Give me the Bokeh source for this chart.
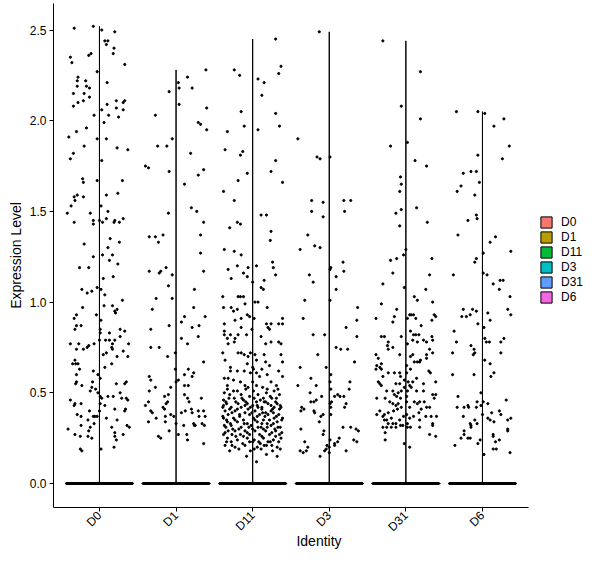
import math
from bokeh.plotting import figure
from bokeh.models import Legend, LegendItem, FixedTicker
from bokeh.embed import file_html
from bokeh.resources import INLINE

# identities and ggplot hue colours
idents = ["D0", "D1", "D11", "D3", "D31", "D6"]
colors = ["#F8766D", "#B79F00", "#00BA38", "#00BFC4", "#619CFF", "#F564E3"]

# non-zero cells per identity: (jitter offset, expression level)
d0_cells = [
    (-0.33, 2.51), (-0.08, 2.52), (0.03, 2.50), (0.20, 2.49), (0.07, 2.44), (0.11, 2.44), (0.09, 2.42),
    (0.19, 2.40), (0.18, 2.37), (-0.38, 2.35), (-0.14, 2.36), (-0.11, 2.37), (-0.36, 2.32), (0.33, 2.31),
    (-0.03, 2.27), (-0.28, 2.24), (-0.29, 2.22), (-0.18, 2.22), (0.10, 2.21), (-0.17, 2.19), (-0.13, 2.18),
    (-0.29, 2.19), (-0.34, 2.15), (-0.20, 2.15), (-0.13, 2.13), (-0.28, 2.10), (-0.34, 2.08), (-0.21, 2.11),
    (0.10, 2.09), (0.22, 2.11), (0.31, 2.10), (0.33, 2.11), (0.03, 2.06), (0.22, 2.07), (0.31, 2.06),
    (-0.07, 2.03), (0.12, 2.03), (0.25, 2.02), (0.06, 1.99), (-0.17, 1.96), (-0.30, 1.94), (-0.40, 1.91),
    (-0.03, 1.90), (0.09, 1.90), (-0.20, 1.86), (0.23, 1.85), (0.37, 1.84), (-0.34, 1.82), (-0.38, 1.79),
    (0.03, 1.78), (-0.22, 1.68), (-0.21, 1.66), (-0.03, 1.67), (0.30, 1.67), (0.24, 1.60), (0.09, 1.59),
    (-0.29, 1.59), (-0.33, 1.58), (-0.21, 1.58), (-0.32, 1.56), (-0.37, 1.53), (0.02, 1.53), (-0.42, 1.49),
    (-0.12, 1.49), (0.11, 1.50), (-0.33, 1.44), (-0.08, 1.45), (-0.08, 1.43), (0.00, 1.45), (0.04, 1.44),
    (0.09, 1.46), (0.19, 1.44), (0.20, 1.45), (0.26, 1.44), (0.31, 1.46), (0.14, 1.35), (0.26, 1.33),
    (-0.20, 1.32), (0.11, 1.30), (0.17, 1.26), (-0.08, 1.25), (0.04, 1.26), (0.13, 1.23), (0.24, 1.21),
    (-0.14, 1.19), (-0.26, 1.19), (0.05, 1.13), (0.18, 1.14), (-0.03, 1.08), (-0.23, 1.07), (-0.16, 1.05),
    (-0.10, 1.06), (0.02, 1.07), (0.07, 1.04), (0.30, 1.01), (0.06, 0.98), (0.17, 0.98), (-0.22, 0.97),
    (-0.04, 0.93), (-0.30, 0.93), (0.23, 0.96), (0.20, 0.95), (0.21, 0.94), (-0.33, 0.91), (0.02, 0.90),
    (-0.30, 0.87), (-0.24, 0.87), (-0.32, 0.85), (0.27, 0.85), (0.01, 0.85), (0.33, 0.84), (0.01, 0.83),
    (0.13, 0.83), (0.27, 0.81), (-0.38, 0.77), (-0.27, 0.77), (-0.07, 0.77), (-0.14, 0.76), (0.00, 0.79),
    (0.08, 0.79), (0.13, 0.79), (0.20, 0.79), (0.17, 0.77), (0.38, 0.77), (0.31, 0.73), (0.16, 0.75),
    (0.17, 0.74), (0.09, 0.72), (-0.16, 0.75), (-0.30, 0.74), (-0.21, 0.74), (0.05, 0.71), (0.23, 0.70),
    (0.37, 0.70), (-0.32, 0.68), (-0.35, 0.66), (-0.31, 0.66), (-0.28, 0.66), (0.16, 0.66), (-0.26, 0.63),
    (0.07, 0.64), (-0.08, 0.62), (-0.02, 0.60), (-0.30, 0.60), (0.01, 0.58), (0.35, 0.56), (0.22, 0.55),
    (0.33, 0.55), (-0.31, 0.55), (-0.23, 0.54), (-0.10, 0.53), (-0.30, 0.56), (-0.09, 0.56), (-0.05, 0.52),
    (-0.12, 0.51), (-0.02, 0.50), (0.27, 0.50), (-0.38, 0.46), (-0.32, 0.44), (-0.24, 0.44), (-0.33, 0.43),
    (0.01, 0.48), (0.03, 0.47), (0.11, 0.48), (0.18, 0.48), (0.29, 0.47), (0.35, 0.47), (0.37, 0.46),
    (0.07, 0.43), (0.01, 0.44), (0.20, 0.41), (0.34, 0.41), (-0.29, 0.38), (-0.13, 0.40), (0.00, 0.40),
    (0.33, 0.40), (-0.08, 0.37), (-0.06, 0.37), (-0.03, 0.37), (-0.24, 0.37), (-0.15, 0.35), (0.09, 0.36),
    (0.23, 0.35), (-0.07, 0.33), (0.36, 0.32), (-0.41, 0.30), (-0.24, 0.32), (-0.12, 0.31), (0.16, 0.31),
    (0.39, 0.31), (-0.14, 0.29), (0.20, 0.28), (-0.32, 0.27), (-0.25, 0.26), (-0.15, 0.26), (0.31, 0.27),
    (0.20, 0.26), (-0.10, 0.25), (0.22, 0.24), (-0.25, 0.19), (-0.23, 0.18), (0.02, 0.19), (0.19, 0.20),
]

d1_cells = [
    (0.39, 2.28), (0.15, 2.24), (0.03, 2.21), (0.04, 2.18), (0.21, 2.18), (-0.09, 2.16), (0.04, 2.09),
    (0.40, 2.07), (-0.27, 2.03), (0.29, 1.99), (0.32, 1.98), (0.40, 1.95), (-0.05, 1.90), (-0.24, 1.86),
    (-0.12, 1.86), (0.19, 1.82), (-0.40, 1.75), (-0.36, 1.74), (0.36, 1.73), (-0.09, 1.72), (0.29, 1.70),
    (0.11, 1.65), (0.20, 1.52), (0.27, 1.50), (-0.10, 1.49), (0.36, 1.44), (-0.17, 1.37), (0.32, 1.37),
    (-0.35, 1.36), (-0.27, 1.36), (-0.23, 1.33), (0.32, 1.27), (-0.13, 1.19), (-0.35, 1.17), (-0.20, 1.17),
    (-0.22, 1.16), (-0.05, 1.15), (0.36, 1.17), (-0.10, 1.09), (0.24, 1.07), (-0.26, 1.02), (-0.05, 1.02),
    (-0.31, 0.96), (0.23, 0.97), (0.38, 0.92), (0.11, 0.92), (0.07, 0.89), (-0.09, 0.87), (0.30, 0.87),
    (0.21, 0.86), (-0.33, 0.85), (0.29, 0.81), (0.07, 0.80), (0.15, 0.77), (-0.33, 0.75), (-0.22, 0.75),
    (-0.01, 0.72), (-0.11, 0.70), (0.36, 0.67), (0.16, 0.63), (-0.01, 0.63), (0.23, 0.61), (0.11, 0.60),
    (-0.35, 0.59), (0.21, 0.59), (-0.33, 0.57), (0.03, 0.57), (0.00, 0.56), (0.11, 0.54), (0.16, 0.54),
    (-0.27, 0.53), (-0.07, 0.53), (-0.35, 0.51), (-0.10, 0.49), (0.11, 0.49), (-0.15, 0.48), (0.15, 0.47),
    (0.17, 0.45), (0.33, 0.47), (-0.36, 0.45), (-0.40, 0.43), (-0.11, 0.45), (-0.13, 0.44), (-0.17, 0.42),
    (-0.15, 0.41), (-0.33, 0.40), (-0.31, 0.39), (0.20, 0.41), (0.12, 0.40), (0.29, 0.40), (0.36, 0.40),
    (0.21, 0.39), (-0.07, 0.38), (-0.03, 0.37), (-0.14, 0.37), (-0.26, 0.36), (0.07, 0.39), (0.30, 0.37),
    (0.38, 0.37), (-0.36, 0.34), (-0.14, 0.34), (0.00, 0.33), (0.10, 0.32), (0.23, 0.33), (0.25, 0.32),
    (0.24, 0.32), (0.34, 0.33), (0.37, 0.32), (-0.09, 0.29), (-0.23, 0.26), (-0.20, 0.25), (0.03, 0.27),
    (0.14, 0.27), (0.15, 0.24), (0.36, 0.22),
]

d11_cells = [
    (0.30, 2.45), (0.37, 2.30), (-0.24, 2.28), (-0.17, 2.25), (0.34, 2.26), (0.07, 2.23), (0.15, 2.21),
    (0.12, 2.14), (-0.15, 2.05), (0.30, 2.04), (-0.11, 1.97), (0.35, 1.97), (0.07, 1.95), (-0.33, 1.94),
    (-0.36, 1.84), (-0.13, 1.83), (-0.16, 1.81), (0.30, 1.78), (0.24, 1.72), (-0.07, 1.71), (0.39, 1.66),
    (-0.19, 1.67), (-0.38, 1.61), (-0.24, 1.56), (0.11, 1.48), (0.18, 1.48), (-0.20, 1.44), (-0.16, 1.43),
    (-0.30, 1.41), (0.24, 1.39), (0.23, 1.34), (-0.37, 1.29), (-0.24, 1.28), (-0.15, 1.26), (0.26, 1.22),
    (0.05, 1.20), (-0.20, 1.20), (-0.06, 1.19), (-0.32, 1.18), (0.27, 1.19), (-0.12, 1.16), (0.00, 1.11),
    (-0.28, 1.13), (0.30, 1.15), (-0.07, 1.14), (0.15, 1.12), (0.11, 1.08), (0.14, 1.07), (-0.19, 1.03),
    (-0.16, 1.03), (-0.12, 1.03), (-0.39, 1.03), (0.03, 1.00), (0.07, 1.00), (-0.10, 0.99), (-0.28, 0.97),
    (-0.38, 0.97), (0.19, 0.97), (-0.25, 0.95), (-0.20, 0.96), (-0.07, 0.93), (-0.04, 0.92), (0.39, 0.91),
    (-0.15, 0.91), (-0.23, 0.90), (0.02, 0.91), (-0.37, 0.88), (0.18, 0.88), (0.24, 0.88), (0.34, 0.88),
    (0.39, 0.88), (0.20, 0.86), (0.22, 0.85), (-0.15, 0.86), (-0.01, 0.85), (-0.37, 0.84), (-0.37, 0.82),
    (-0.29, 0.82), (-0.19, 0.82), (-0.08, 0.82), (0.11, 0.81), (-0.33, 0.80), (-0.23, 0.80), (-0.24, 0.78),
    (0.24, 0.78), (0.34, 0.78), (0.37, 0.77), (-0.32, 0.77), (0.17, 0.77), (-0.39, 0.72), (-0.19, 0.72),
    (-0.15, 0.72), (-0.11, 0.71), (-0.03, 0.72), (0.03, 0.71), (-0.06, 0.70), (0.15, 0.71), (0.37, 0.71),
    (-0.36, 0.68), (-0.07, 0.66), (0.05, 0.68), (0.17, 0.67), (0.39, 0.67), (-0.29, 0.64), (0.00, 0.64),
    (0.22, 0.65), (-0.29, 0.62), (-0.20, 0.62), (-0.11, 0.62), (0.01, 0.63), (0.05, 0.61), (0.12, 0.63),
    (0.34, 0.62), (-0.03, 0.61), (-0.37, 0.58), (-0.32, 0.58), (0.09, 0.59), (0.19, 0.60), (0.39, 0.59),
    (-0.25, 0.57), (-0.16, 0.56), (0.00, 0.56), (0.24, 0.56), (-0.33, 0.54), (-0.10, 0.54), (0.05, 0.54),
    (0.13, 0.53), (0.31, 0.54), (-0.37, 0.50), (-0.25, 0.51), (-0.20, 0.51), (-0.06, 0.53), (0.01, 0.51),
    (0.18, 0.50), (0.28, 0.51), (-0.30, 0.49), (-0.15, 0.49), (-0.04, 0.48), (0.07, 0.49), (0.23, 0.48),
    (0.35, 0.49), (-0.38, 0.46), (-0.24, 0.47), (-0.12, 0.46), (0.02, 0.47), (0.10, 0.46), (0.17, 0.45),
    (0.25, 0.47), (-0.34, 0.44), (-0.19, 0.44), (-0.07, 0.44), (0.00, 0.43), (0.20, 0.44), (0.32, 0.44),
    (-0.39, 0.42), (-0.28, 0.42), (-0.15, 0.42), (-0.03, 0.42), (0.07, 0.42), (0.12, 0.42), (0.28, 0.42),
    (0.37, 0.42), (-0.36, 0.40), (-0.23, 0.40), (-0.10, 0.39), (0.03, 0.40), (0.17, 0.39), (0.24, 0.40),
    (-0.32, 0.38), (-0.17, 0.38), (-0.04, 0.38), (0.09, 0.38), (0.20, 0.38), (0.34, 0.38), (-0.38, 0.36),
    (-0.25, 0.36), (-0.12, 0.35), (0.01, 0.36), (0.14, 0.35), (0.28, 0.36), (0.39, 0.36), (-0.33, 0.34),
    (-0.20, 0.34), (-0.07, 0.33), (0.06, 0.34), (0.19, 0.33), (0.32, 0.34), (-0.37, 0.32), (-0.28, 0.32),
    (-0.15, 0.31), (-0.02, 0.32), (0.11, 0.31), (0.24, 0.32), (0.36, 0.31), (-0.32, 0.29), (-0.23, 0.29),
    (-0.10, 0.29), (0.03, 0.29), (0.17, 0.29), (0.30, 0.29), (-0.38, 0.27), (-0.27, 0.27), (-0.16, 0.27),
    (-0.04, 0.27), (0.09, 0.27), (0.22, 0.27), (0.35, 0.27), (-0.33, 0.25), (-0.20, 0.24), (-0.07, 0.25),
    (0.02, 0.24), (0.14, 0.25), (0.27, 0.24), (0.37, 0.25), (-0.28, 0.23), (-0.13, 0.22), (0.00, 0.23),
    (0.10, 0.22), (0.23, 0.23), (-0.36, 0.21), (-0.23, 0.20), (-0.10, 0.21), (0.06, 0.20), (0.18, 0.21),
    (0.32, 0.20), (-0.30, 0.18), (-0.03, 0.18), (0.11, 0.19), (0.26, 0.18), (-0.08, 0.15), (0.18, 0.16),
    (0.32, 0.15), (0.05, 0.12),
    (-0.35, 0.45), (-0.22, 0.45), (-0.09, 0.45), (0.05, 0.45), (0.15, 0.45), (0.30, 0.45), (-0.30, 0.41),
    (-0.20, 0.41), (-0.06, 0.41), (0.12, 0.41), (0.26, 0.41), (0.35, 0.41), (-0.39, 0.37), (-0.17, 0.37),
    (0.06, 0.37), (0.16, 0.37), (0.31, 0.37), (-0.34, 0.35), (-0.23, 0.35), (0.03, 0.35), (0.22, 0.35),
    (0.38, 0.35), (-0.29, 0.33), (-0.11, 0.33), (0.12, 0.33), (0.27, 0.33), (-0.35, 0.31), (-0.05, 0.31),
    (0.07, 0.31), (0.19, 0.31), (0.33, 0.31), (-0.26, 0.30), (-0.18, 0.30), (0.00, 0.30), (0.14, 0.30),
    (0.29, 0.30), (-0.36, 0.28), (-0.07, 0.28), (0.25, 0.28), (0.38, 0.28), (-0.22, 0.26), (-0.12, 0.26),
    (0.12, 0.26), (0.30, 0.26), (-0.34, 0.23), (-0.04, 0.23), (0.08, 0.23), (0.20, 0.23), (0.34, 0.23),
    (-0.27, 0.21), (0.15, 0.21), (0.25, 0.21), (-0.18, 0.19), (0.02, 0.19), (0.36, 0.19), (-0.27, 0.39),
    (-0.01, 0.39), (0.13, 0.39), (0.27, 0.39), (-0.38, 0.43), (-0.10, 0.43), (0.06, 0.43), (0.24, 0.43),
    (0.36, 0.43), (-0.31, 0.47), (-0.14, 0.47), (0.14, 0.47), (0.31, 0.47), (-0.33, 0.52), (-0.09, 0.52),
    (0.19, 0.52), (0.33, 0.52),
]

d3_cells = [
    (-0.13, 2.49), (-0.41, 1.90), (-0.16, 1.80), (-0.12, 1.79), (0.01, 1.80), (-0.23, 1.56), (-0.08, 1.55),
    (0.19, 1.56), (0.28, 1.56), (-0.23, 1.50), (0.20, 1.50), (-0.08, 1.47), (-0.28, 1.37), (-0.19, 1.31),
    (-0.12, 1.30), (-0.38, 1.29), (0.18, 1.22), (0.02, 1.19), (0.01, 1.18), (0.19, 1.17), (-0.26, 1.15),
    (0.09, 1.14), (-0.21, 1.11), (0.09, 1.07), (-0.32, 1.01), (0.01, 1.01), (0.37, 0.97), (-0.34, 0.91),
    (0.36, 0.90), (0.22, 0.86), (-0.21, 0.82), (-0.06, 0.82), (0.36, 0.81), (0.09, 0.75), (0.15, 0.74),
    (0.24, 0.74), (-0.15, 0.71), (0.33, 0.67), (-0.38, 0.64), (-0.04, 0.64), (0.02, 0.60), (-0.24, 0.58),
    (0.01, 0.56), (0.27, 0.56), (-0.41, 0.54), (-0.17, 0.54), (0.02, 0.52), (0.26, 0.52), (-0.25, 0.50),
    (0.11, 0.49), (0.14, 0.48), (0.07, 0.48), (0.19, 0.48), (-0.10, 0.48), (-0.17, 0.46), (-0.24, 0.45),
    (-0.20, 0.45), (0.03, 0.45), (0.01, 0.44), (0.22, 0.44), (-0.36, 0.42), (-0.33, 0.41), (-0.37, 0.40),
    (-0.20, 0.40), (-0.19, 0.39), (0.02, 0.42), (0.20, 0.42), (-0.08, 0.38), (-0.11, 0.37), (0.02, 0.38),
    (-0.13, 0.34), (-0.37, 0.30), (-0.07, 0.29), (-0.08, 0.27), (0.18, 0.31), (0.28, 0.31), (0.35, 0.30),
    (0.38, 0.29), (-0.32, 0.23), (0.01, 0.24), (0.13, 0.25), (0.11, 0.23), (0.07, 0.22), (0.07, 0.21),
    (0.32, 0.24), (0.36, 0.23), (-0.28, 0.20), (-0.03, 0.21), (-0.04, 0.19), (0.00, 0.20), (-0.38, 0.18),
    (-0.34, 0.17), (-0.30, 0.18), (-0.06, 0.18), (0.00, 0.17), (0.22, 0.18), (-0.12, 0.15),
]

d31_cells = [
    (-0.30, 2.44), (0.19, 2.27), (-0.06, 2.08), (0.19, 2.01), (0.02, 1.88), (-0.20, 1.86), (0.12, 1.78),
    (0.27, 1.75), (-0.07, 1.69), (-0.06, 1.65), (-0.08, 1.61), (-0.06, 1.51), (0.14, 1.52), (-0.13, 1.49),
    (0.28, 1.44), (-0.08, 1.42), (0.00, 1.29), (-0.03, 1.26), (-0.20, 1.23), (-0.12, 1.24), (0.34, 1.24),
    (0.31, 1.15), (-0.17, 1.16), (-0.30, 1.10), (-0.02, 1.08), (0.26, 1.07), (0.11, 1.03), (0.15, 1.01),
    (-0.32, 0.99), (0.35, 1.00), (-0.12, 0.96), (-0.15, 0.92), (0.05, 0.93), (0.07, 0.93), (0.10, 0.93),
    (0.37, 0.93), (-0.39, 0.91), (0.02, 0.91), (0.13, 0.91), (0.39, 0.92), (-0.17, 0.89), (0.34, 0.90),
    (0.20, 0.87), (0.06, 0.84), (0.10, 0.82), (0.13, 0.82), (0.17, 0.82), (-0.32, 0.81), (-0.28, 0.81),
    (-0.06, 0.81), (0.34, 0.81), (0.09, 0.79), (0.15, 0.78), (0.23, 0.79), (0.27, 0.78), (0.35, 0.79),
    (-0.23, 0.78), (0.02, 0.77), (-0.24, 0.76), (-0.23, 0.74), (-0.17, 0.75), (0.31, 0.74), (0.35, 0.72),
    (0.27, 0.71), (-0.39, 0.71), (-0.08, 0.71), (0.09, 0.71), (0.06, 0.70), (-0.36, 0.69), (0.19, 0.68),
    (0.15, 0.67), (0.11, 0.67), (0.18, 0.67), (0.27, 0.69), (-0.32, 0.66), (-0.38, 0.65), (-0.34, 0.64),
    (0.01, 0.65), (-0.32, 0.63), (-0.39, 0.63), (0.06, 0.63), (0.30, 0.62), (-0.23, 0.61), (-0.15, 0.61),
    (-0.08, 0.61), (0.01, 0.61), (-0.30, 0.59), (-0.07, 0.59), (0.14, 0.58), (0.32, 0.61), (-0.36, 0.56),
    (-0.34, 0.55), (-0.32, 0.54), (-0.02, 0.57), (0.09, 0.56), (0.39, 0.56), (-0.13, 0.55), (-0.08, 0.55),
    (0.03, 0.56), (0.05, 0.54), (0.07, 0.53), (0.23, 0.55), (-0.02, 0.53), (-0.25, 0.51), (-0.17, 0.51),
    (-0.10, 0.50), (-0.06, 0.51), (0.02, 0.51), (0.14, 0.51), (0.23, 0.51), (0.35, 0.49), (0.39, 0.49),
    (-0.38, 0.47), (-0.27, 0.47), (-0.15, 0.49), (-0.12, 0.48), (-0.07, 0.47), (0.01, 0.48), (0.11, 0.45),
    (0.18, 0.45), (0.24, 0.45), (0.37, 0.47), (-0.21, 0.45), (-0.17, 0.44), (-0.13, 0.43), (-0.10, 0.44),
    (0.01, 0.45), (0.15, 0.44), (0.05, 0.42), (-0.06, 0.42), (-0.11, 0.41), (0.20, 0.41), (0.27, 0.42),
    (0.31, 0.42), (-0.38, 0.38), (-0.34, 0.40), (-0.30, 0.37), (-0.28, 0.38), (-0.23, 0.39), (-0.16, 0.40),
    (0.01, 0.38), (0.10, 0.37), (0.17, 0.39), (0.26, 0.37), (0.33, 0.37), (0.40, 0.37), (-0.28, 0.35),
    (-0.25, 0.35), (-0.19, 0.36), (-0.08, 0.35), (-0.03, 0.37), (0.05, 0.36), (0.18, 0.35), (-0.23, 0.33),
    (-0.17, 0.33), (-0.13, 0.33), (-0.07, 0.32), (-0.04, 0.32), (0.02, 0.33), (0.35, 0.33), (-0.30, 0.31),
    (-0.25, 0.31), (-0.19, 0.31), (-0.13, 0.31), (0.02, 0.31), (0.06, 0.31), (0.18, 0.31), (0.35, 0.32),
    (-0.27, 0.28), (0.31, 0.27), (0.39, 0.26), (-0.27, 0.24), (-0.02, 0.22), (0.05, 0.20),
]

d6_cells = [
    (-0.34, 2.05), (-0.06, 2.05), (0.03, 2.04), (0.28, 2.01), (0.15, 1.97), (0.35, 1.86), (-0.06, 1.81),
    (0.26, 1.79), (-0.25, 1.71), (-0.15, 1.72), (-0.08, 1.72), (-0.04, 1.66), (-0.28, 1.64), (-0.33, 1.61),
    (-0.10, 1.59), (-0.08, 1.48), (-0.07, 1.46), (-0.19, 1.45), (-0.32, 1.37), (0.17, 1.36), (0.10, 1.33),
    (0.37, 1.28), (0.01, 1.27), (-0.08, 1.24), (-0.10, 1.22), (-0.38, 1.15), (0.01, 1.16), (0.06, 1.15),
    (0.23, 1.12), (0.27, 1.12), (0.14, 1.10), (0.22, 1.07), (0.36, 1.03), (-0.25, 0.96), (-0.13, 0.96),
    (-0.08, 0.95), (0.33, 0.96), (-0.27, 0.92), (-0.21, 0.92), (-0.16, 0.93), (0.07, 0.94), (0.37, 0.93),
    (0.10, 0.90), (-0.06, 0.88), (0.02, 0.86), (-0.37, 0.84), (0.03, 0.80), (0.05, 0.78), (0.28, 0.80),
    (0.09, 0.78), (0.24, 0.78), (-0.34, 0.78), (-0.15, 0.76), (-0.11, 0.74), (-0.10, 0.72), (-0.12, 0.71),
    (0.24, 0.72), (-0.39, 0.72), (0.03, 0.68), (0.10, 0.66), (0.15, 0.61), (0.11, 0.59), (-0.39, 0.60),
    (-0.11, 0.60), (-0.02, 0.50), (-0.32, 0.48), (-0.07, 0.45), (0.01, 0.45), (0.07, 0.44), (0.31, 0.46),
    (-0.02, 0.43), (-0.33, 0.42), (-0.24, 0.42), (-0.19, 0.43), (-0.18, 0.42), (-0.08, 0.42), (0.22, 0.40),
    (0.12, 0.39), (0.24, 0.38), (-0.25, 0.37), (-0.10, 0.35), (0.00, 0.38), (0.07, 0.36), (0.10, 0.35),
    (0.15, 0.34), (0.37, 0.36), (0.33, 0.35), (-0.07, 0.33), (-0.16, 0.33), (-0.15, 0.32), (-0.15, 0.31),
    (0.33, 0.30), (0.33, 0.29), (-0.24, 0.29), (-0.24, 0.27), (-0.28, 0.25), (-0.19, 0.25), (-0.16, 0.25),
    (0.14, 0.27), (0.14, 0.26), (-0.03, 0.24), (0.22, 0.24), (0.17, 0.23), (-0.06, 0.22), (-0.36, 0.21),
    (0.14, 0.19), (0.18, 0.19), (0.36, 0.17), (0.02, 0.16),
]

cells = [d0_cells, d1_cells, d11_cells, d3_cells, d31_cells, d6_cells]

FONT = "Liberation Sans"

# the frame runs on under the legend; the x axis line is bounded to the data panel
p = figure(width=584, height=552, x_range=(0.4, 7.332), y_range=(-0.1323, 2.6461),
           output_backend="svg", toolbar_location=None,
           min_border_left=53, min_border_right=0, min_border_top=3, min_border_bottom=45)
p.background_fill_color = "white"
p.border_fill_color = "white"
p.outline_line_color = None
p.xgrid.visible = False
p.ygrid.visible = False

legend_items = []
for i, (name, col, grp) in enumerate(zip(idents, colors, cells)):
    c = i + 1
    top = max(v for _, v in grp)
    # violin: almost all cells are zero, so the shape collapses to a flat base and a hairline neck
    r = p.patch([c - 0.45, c + 0.45, c, c, c],
                [0, 0, 0.006, top, 0.006],
                fill_color=col, line_color="black", line_width=1)
    legend_items.append(LegendItem(label=name, renderers=[r]))
    # zero-valued cells pile up on the base
    p.segment(x0=[c - 0.44], y0=[0], x1=[c + 0.44], y1=[0], line_color="black", line_width=3)
    p.scatter([c + o for o, _ in grp], [v for _, v in grp], size=2.2,
              fill_color="black", line_color="black")

p.xaxis.ticker = FixedTicker(ticks=list(range(1, len(idents) + 1)))
p.xaxis.major_label_overrides = {i + 1: n for i, n in enumerate(idents)}
p.xaxis.major_label_orientation = math.pi / 4
p.xaxis.bounds = (0.4, 6.6)
p.yaxis.ticker = FixedTicker(ticks=[0.0, 0.5, 1.0, 1.5, 2.0, 2.5])
p.yaxis.major_label_overrides = {0.0: "0.0", 0.5: "0.5", 1.0: "1.0", 1.5: "1.5", 2.0: "2.0", 2.5: "2.5"}
p.xaxis.axis_label = "Identity"
p.yaxis.axis_label = "Expression Level"

for ax in (p.xaxis, p.yaxis):
    ax.axis_line_color = "black"
    ax.axis_line_width = 1
    ax.major_tick_line_color = "black"
    ax.major_tick_out = 4
    ax.major_tick_in = 0
    ax.minor_tick_line_color = None
    ax.major_label_text_font = FONT
    ax.major_label_text_font_size = "12px"
    ax.major_label_text_color = "black"
    ax.axis_label_text_font = FONT
    ax.axis_label_text_font_size = "14px"
    ax.axis_label_text_font_style = "normal"
    ax.axis_label_text_color = "black"
p.yaxis.major_label_standoff = 3
p.yaxis.axis_label_standoff = 3
p.xaxis.major_label_standoff = 2
# the rotated labels' boxes are mostly empty, so tuck the title up into them
p.xaxis.axis_label_standoff = -9

legend = Legend(items=legend_items, location=(486, 203), orientation="vertical")
legend.label_text_font = FONT
legend.label_text_font_size = "12px"
legend.label_text_color = "black"
legend.glyph_width = 14
legend.glyph_height = 14
legend.label_height = 14
legend.spacing = 1
legend.label_standoff = 8
legend.padding = 0
legend.margin = 0
legend.border_line_color = None
legend.background_fill_color = None
p.add_layout(legend)

open("out.html", "w").write(file_html(p, INLINE))
